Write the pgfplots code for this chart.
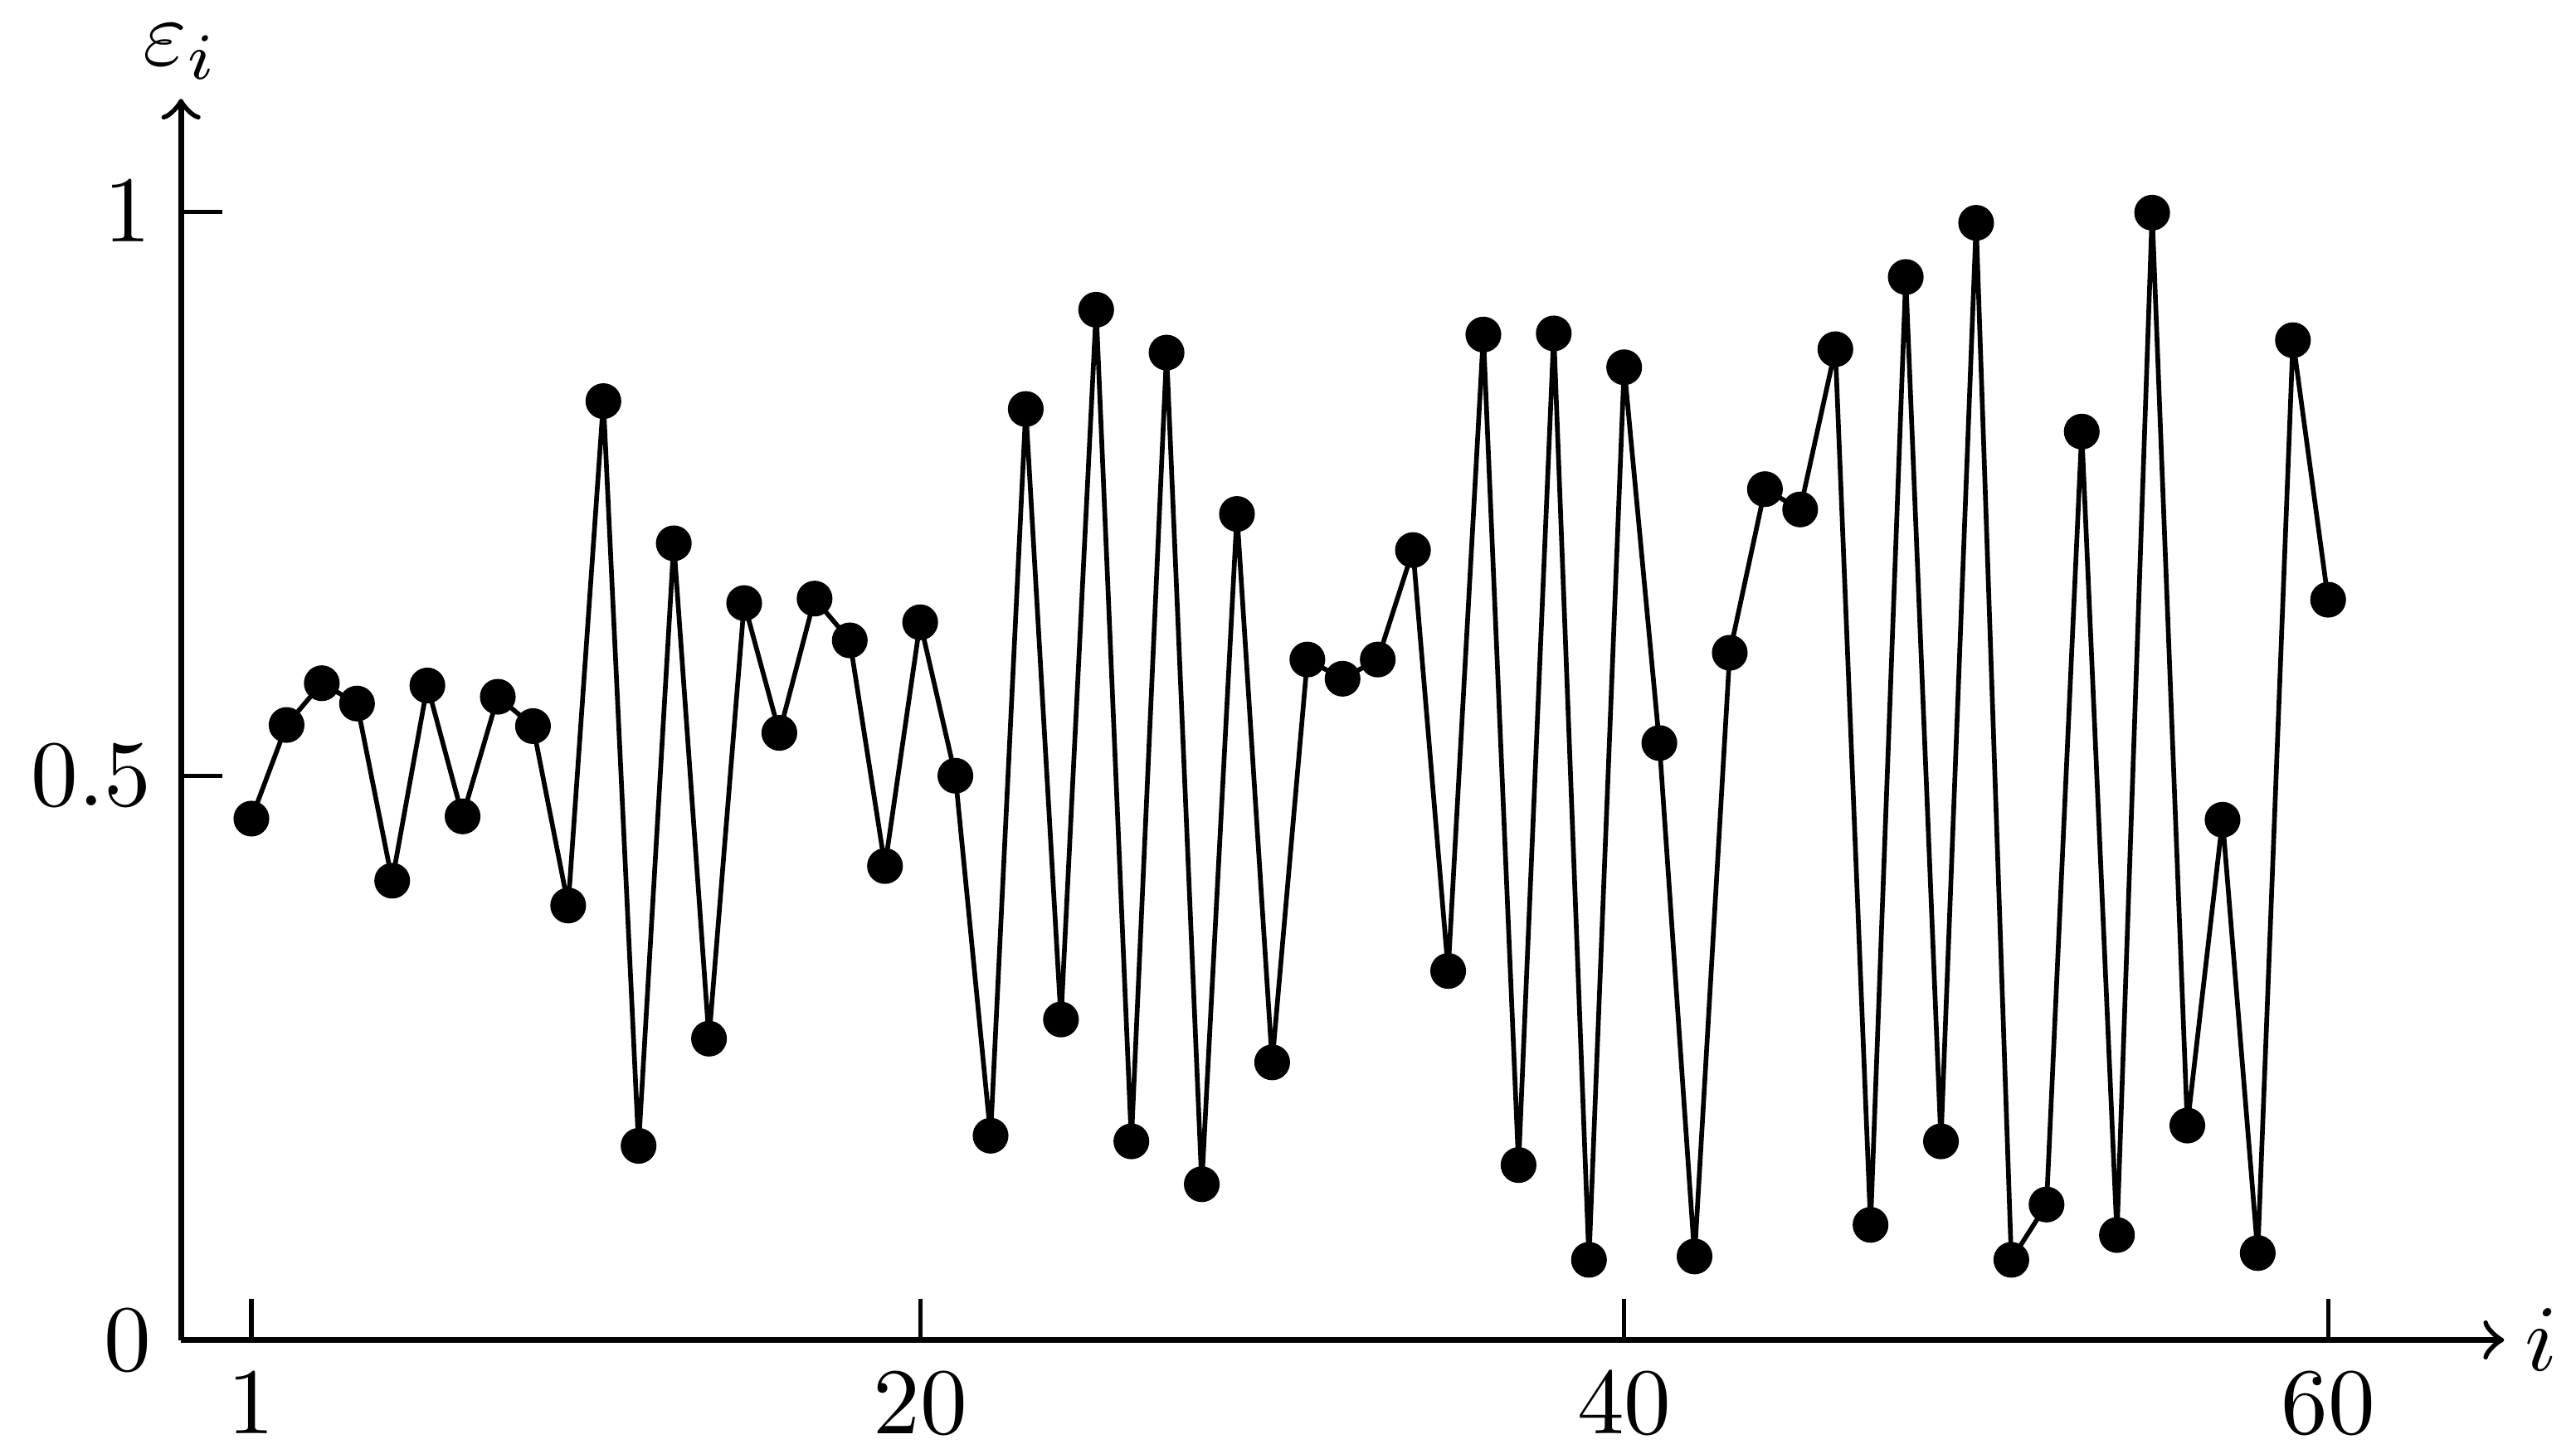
\documentclass[border=0pt]{standalone}
\usepackage{pgfplots}
\pgfplotsset{compat=1.18}

\pgfplotstableread{
i eps
1 0.462
2 0.545
3 0.582
4 0.564
5 0.407
6 0.580
7 0.464
8 0.570
9 0.544
10 0.385
11 0.832
12 0.172
13 0.706
14 0.267
15 0.653
16 0.538
17 0.657
18 0.620
19 0.420
20 0.636
21 0.500
22 0.181
23 0.825
24 0.284
25 0.913
26 0.176
27 0.875
28 0.138
29 0.732
30 0.246
31 0.603
32 0.586
33 0.603
34 0.700
35 0.327
36 0.891
37 0.155
38 0.892
39 0.071
40 0.862
41 0.529
42 0.074
43 0.609
44 0.754
45 0.736
46 0.878
47 0.102
48 0.942
49 0.176
50 0.990
51 0.071
52 0.120
53 0.805
54 0.093
55 0.999
56 0.190
57 0.461
58 0.077
59 0.886
60 0.656
}\epsdata

\begin{document}
\begin{tikzpicture}
\begin{axis}[
    scale only axis,
    width=247pt,
    height=132pt,
    axis lines=left,
    axis line style={line width=0.6pt, -to},
    xmin=-1, xmax=65,
    ymin=0, ymax=1.1,
    xtick={1,20,40,60},
    ytick={0,0.5,1},
    tick align=inside,
    major tick length=4.4pt,
    tick style={line width=0.45pt, black},
    xticklabel style={inner sep=1.6pt, yshift=-1.7pt},
    yticklabel style={xshift=0.4pt},
    xlabel={$i$},
    ylabel={$\varepsilon_i$},
    xlabel style={at={(rel axis cs:1,0)}, anchor=west, inner sep=2pt},
    ylabel style={at={(rel axis cs:0,1)}, anchor=south, rotate=-90, inner sep=2.6pt, yshift=-0.7pt},
]
\addplot[black, line width=0.5pt, mark=*, mark size=1.65pt] table[x=i, y=eps] {\epsdata};
\end{axis}
\end{tikzpicture}
\end{document}
